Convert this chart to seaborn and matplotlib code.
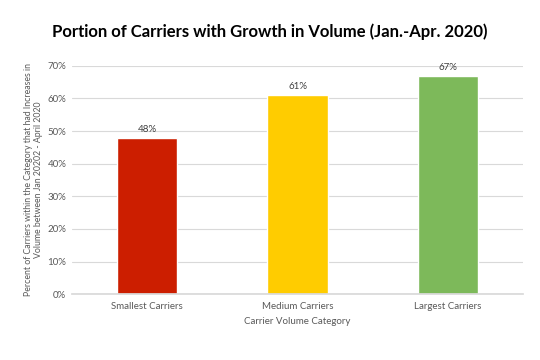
import matplotlib
matplotlib.use('Agg')
import matplotlib.pyplot as plt
import seaborn as sns
import pandas as pd
from matplotlib.ticker import PercentFormatter

# data
categories = ['Smallest Carriers', 'Medium Carriers', 'Largest Carriers']
values = [0.48, 0.61, 0.67]
labels = ['48%', '61%', '67%']
colors = ['#CC1E00', '#FFCC00', '#7DB95A']

df = pd.DataFrame({'category': categories, 'value': values})

sns.set_theme(style='white')
plt.rcParams['font.family'] = ['Lato', 'DejaVu Sans']

fig = plt.figure(figsize=(5.4, 3.6), dpi=100)
ax = fig.add_axes([0.133, 0.183, 0.836, 0.634])

sns.barplot(data=df, x='category', y='value', hue='category', palette=colors,
            width=0.4, legend=False, ax=ax, saturation=1)

for i, (v, lab) in enumerate(zip(values, labels)):
    ax.text(i, v + 0.012, lab, ha='center', va='bottom', fontsize=7, color='#404040')

ax.set_ylim(0, 0.7)
ax.set_yticks([i / 10 for i in range(8)])
ax.yaxis.set_major_formatter(PercentFormatter(1.0, decimals=0))
ax.grid(axis='y', color='#D9D9D9', linewidth=0.8)
ax.set_axisbelow(True)
for s in ['top', 'right', 'left']:
    ax.spines[s].set_visible(False)
ax.spines['bottom'].set_color('#D9D9D9')
ax.tick_params(axis='x', labelsize=7, colors='#595959', length=0, pad=6)
ax.tick_params(axis='y', labelsize=7, colors='#595959', length=0, pad=4)

ax.set_xlabel('Carrier Volume Category', fontsize=7, color='#595959', labelpad=4)
ax.set_ylabel('Percent of Carriers within the Category that had Increases in\nVolume between Jan 20202 - April 2020',
              fontsize=6.3, color='#595959', labelpad=3)

fig.suptitle('Portion of Carriers with Growth in Volume (Jan.-Apr. 2020)',
             fontsize=12, fontweight='bold', color='black', y=0.935)

fig.savefig('out.png', dpi=100)
